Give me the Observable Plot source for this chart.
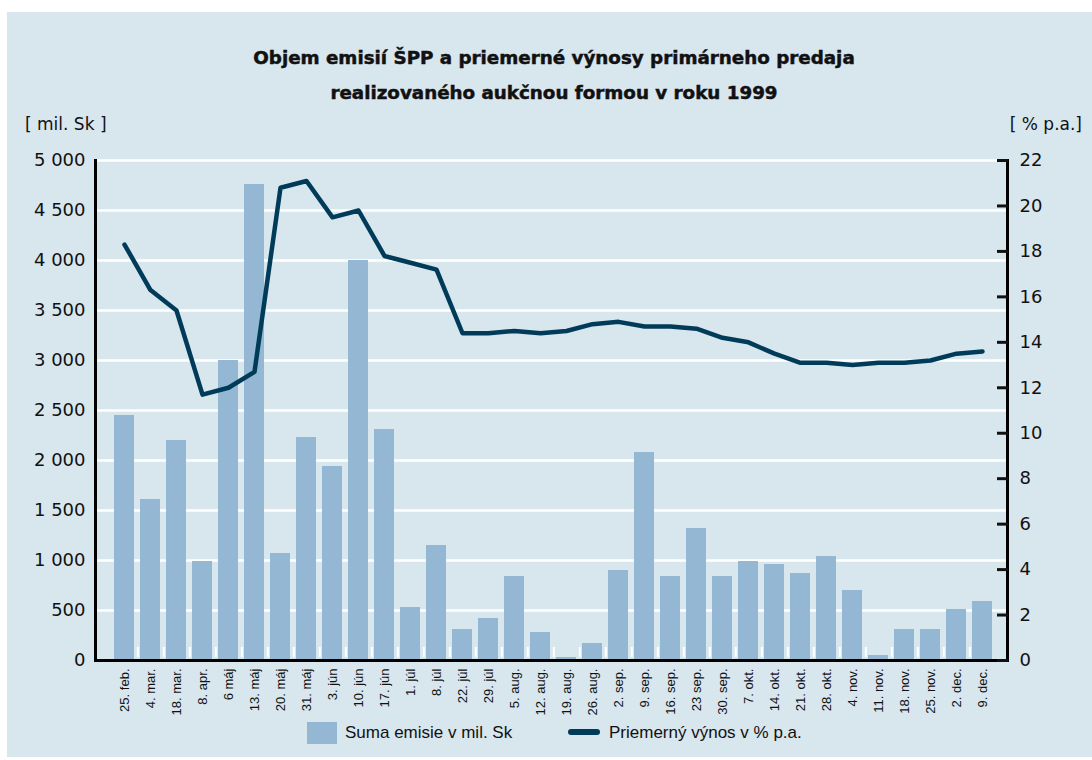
<!DOCTYPE html>
<html>
<head>
<meta charset="utf-8">
<script src="https://cdn.jsdelivr.net/npm/d3@7"></script>
<script src="https://cdn.jsdelivr.net/npm/@observablehq/plot@0.6"></script>
<style>
  html, body { margin: 0; padding: 0; background: #ffffff; width: 1092px; height: 760px; overflow: hidden; }
  #panel { position: absolute; left: 7px; top: 12px; width: 1085px; height: 745px; background: #d8e6ee; }
  .t { position: absolute; color: #111; white-space: nowrap; }
  #title { left: 8px; width: 1092px; top: 40px; text-align: center; font-family: "DejaVu Sans", sans-serif; font-weight: bold; font-size: 18.3px; line-height: 35px; -webkit-text-stroke: 0.5px #111; }
  .unit { font-family: "DejaVu Sans", sans-serif; font-size: 17px; top: 114px; }
  #chart { position: absolute; left: 0; top: 140px; }
  .leg { font-family: "Liberation Sans", Arial, sans-serif; font-size: 17px; top: 723px; line-height: 20px; }
</style>
</head>
<body>
<div id="panel"></div>
<div id="title" class="t">Objem emisií ŠPP a priemerné výnosy primárneho predaja<br>realizovaného aukčnou formou v roku 1999</div>
<div class="t unit" style="left:25px">[ mil. Sk ]</div>
<div class="t unit" style="right:10px">[ % p.a.]</div>
<div id="chart"></div>
<div class="t leg" style="left:307px; top:722px; width:30px; height:22px; background:#94b8d3"></div>
<div class="t leg" style="left:345px">Suma emisie v mil. Sk</div>
<div class="t leg" style="left:568px; top:729px; width:32px; height:6px; border-radius:3px; background:#003c5a"></div>
<div class="t leg" style="left:609px">Priemerný výnos v % p.a.</div>
<script>
const dates = ["25. feb.","4. mar.","18. mar.","8. apr.","6 máj","13. máj","20. máj","31. máj","3. jún","10. jún","17. jún","1. júl","8. júl","22. júl","29. júl","5. aug.","12. aug.","19. aug.","26. aug.","2. sep.","9. sep.","16. sep.","23 sep.","30. sep.","7. okt.","14. okt.","21. okt.","28. okt.","4. nov.","11. nov.","18. nov.","25. nov.","2. dec.","9. dec."];
const emisie = [2450,1610,2200,990,3000,4760,1070,2230,1940,4000,2310,530,1150,310,420,840,280,30,170,900,2080,840,1320,840,990,960,870,1040,700,50,310,310,510,590];
const vynos = [18.3,16.3,15.4,11.7,12.0,12.7,20.8,21.1,19.5,19.8,17.8,17.5,17.2,14.4,14.4,14.5,14.4,14.5,14.8,14.9,14.7,14.7,14.6,14.2,14.0,13.5,13.1,13.1,13.0,13.1,13.1,13.2,13.5,13.6];
const leftTicks = [0,500,1000,1500,2000,2500,3000,3500,4000,4500,5000];
const rightTicks = [0,2,4,6,8,10,12,14,16,18,20,22];

const leftMax = 5000, rightMax = 22;
const k = leftMax / rightMax;
const table = dates.map((d, i) => ({date: d, emisie: emisie[i], vynos: vynos[i]}));
const loc = d3.formatLocale({decimal: ",", thousands: " ", grouping: [3], currency: ["", ""]});
const fmt = loc.format(",d");

const W = 1092, mL = 95, mR = 85;
const halfStep = (W - mL - mR - 6) / dates.length / 2;

const plot = Plot.plot({
  width: W, height: 580,
  marginLeft: mL, marginRight: mR, marginTop: 20, marginBottom: 60,
  style: {background: "transparent", fontFamily: "'Liberation Sans', Arial, sans-serif", color: "#111", overflow: "visible"},
  x: {type: "band", domain: dates, paddingInner: 0.22, paddingOuter: 0.11, insetLeft: 5, insetRight: 1},
  y: {domain: [0, leftMax]},
  marks: [
    Plot.ruleY(leftTicks.filter(d => d > 0), {stroke: "white", strokeWidth: 2.5}),
    Plot.ruleX(dates.slice(0, -1), {x: d => d, y1: 30, y2: 130, dx: halfStep, stroke: "white", strokeWidth: 2}),
    Plot.barY(table, {x: "date", y: "emisie", fill: "#94b8d3"}),
    Plot.line(table, {x: "date", y: d => d.vynos * k, stroke: "#003c5a", strokeWidth: 4.5, strokeLinejoin: "round", strokeLinecap: "round"}),
    Plot.frame({anchor: "left", stroke: "black", strokeWidth: 3}),
    Plot.frame({anchor: "right", stroke: "black", strokeWidth: 3}),
    Plot.frame({anchor: "bottom", stroke: "black", strokeWidth: 3}),
    Plot.axisY(leftTicks, {anchor: "left", tickSize: 0, tickPadding: 10, tickFormat: fmt, fontSize: 18, fontFamily: "'DejaVu Sans', sans-serif", label: null}),
    Plot.axisY(rightTicks.map(v => v * k), {anchor: "right", tickSize: -11, tickPadding: 23, strokeWidth: 3, tickFormat: d => Math.round(d / k), fontSize: 18, fontFamily: "'DejaVu Sans', sans-serif", label: null}),
    Plot.axisX({tickRotate: -90, tickSize: 0, tickPadding: 8, fontSize: 13, label: null})
  ]
});
document.getElementById("chart").appendChild(plot);
</script>
</body>
</html>
